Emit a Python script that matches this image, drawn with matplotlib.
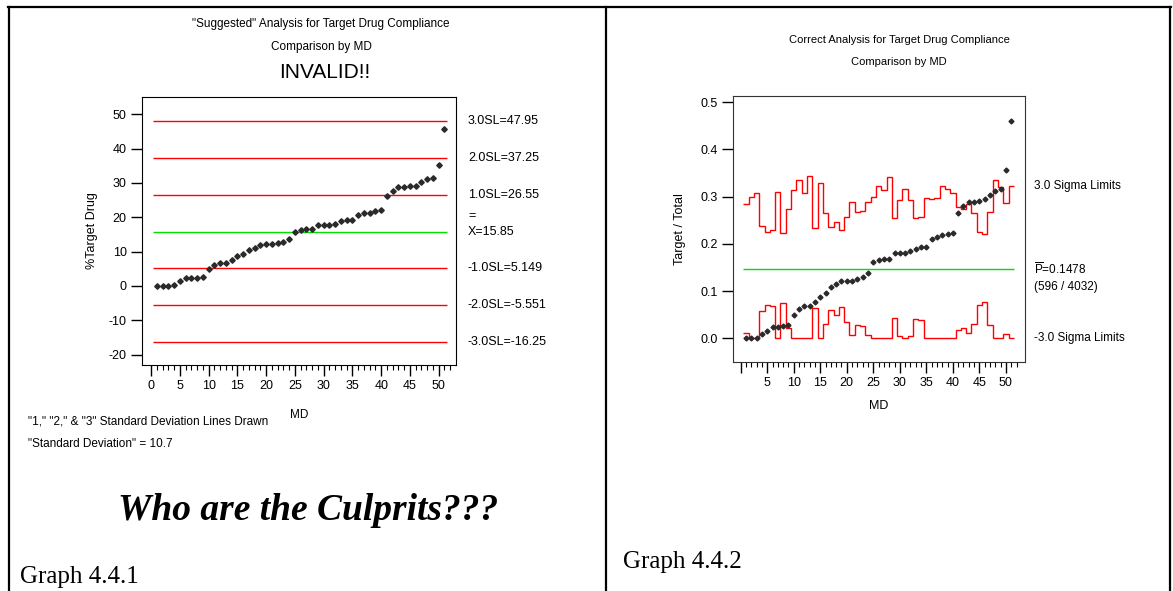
import numpy as np
import matplotlib.pyplot as plt
import matplotlib.transforms as mtransforms
from matplotlib.lines import Line2D

plt.rcParams['font.family'] = ['Liberation Sans', 'DejaVu Sans']
plt.rcParams['mathtext.fontset'] = 'custom'
plt.rcParams['mathtext.rm'] = 'Liberation Sans'
plt.rcParams['axes.unicode_minus'] = False

# data
md = np.arange(1, 52)
pct_target = [0, 0, 0, 0.4, 1.5, 2.25, 2.25, 2.25, 2.6, 4.85,
              6.0, 6.7, 6.7, 7.5, 8.6, 9.3, 10.6, 11.0, 11.8, 12.2,
              12.2, 12.5, 12.9, 13.6, 15.85, 16.2, 16.6, 16.6, 17.7, 17.7,
              17.7, 18.1, 18.8, 19.2, 19.2, 20.6, 21.1, 21.3, 21.7, 22.1,
              26.2, 27.7, 28.7, 28.7, 29.1, 29.1, 30.3, 31.0, 31.4, 35.3, 45.6]
sl_levels = [47.95, 37.25, 26.55, 15.85, 5.149, -5.551, -16.25]
sl_labels = ['3.0SL=47.95', '2.0SL=37.25', '1.0SL=26.55', 'X=15.85',
             '-1.0SL=5.149', '-2.0SL=-5.551', '-3.0SL=-16.25']

p_target = [0, 0, 0, 0.009, 0.016, 0.024, 0.024, 0.027, 0.029, 0.050,
            0.063, 0.069, 0.069, 0.077, 0.087, 0.096, 0.108, 0.115, 0.122, 0.122,
            0.122, 0.125, 0.129, 0.138, 0.161, 0.165, 0.167, 0.167, 0.180, 0.180,
            0.180, 0.184, 0.189, 0.194, 0.194, 0.210, 0.214, 0.218, 0.220, 0.222,
            0.265, 0.281, 0.288, 0.288, 0.291, 0.295, 0.304, 0.311, 0.317, 0.357, 0.460]
ucl = [0.284, 0.299, 0.308, 0.238, 0.225, 0.230, 0.310, 0.222, 0.273, 0.315,
       0.336, 0.307, 0.343, 0.233, 0.328, 0.266, 0.236, 0.246, 0.230, 0.257,
       0.289, 0.268, 0.270, 0.288, 0.299, 0.323, 0.313, 0.342, 0.254, 0.292,
       0.317, 0.292, 0.254, 0.257, 0.297, 0.295, 0.297, 0.323, 0.316, 0.307,
       0.278, 0.274, 0.285, 0.266, 0.226, 0.220, 0.268, 0.336, 0.320, 0.287, 0.323]
lcl = [0.012, 0, 0, 0.058, 0.071, 0.069, 0, 0.074, 0.023, 0,
       0, 0, 0, 0.064, 0, 0.031, 0.061, 0.050, 0.067, 0.035,
       0.007, 0.028, 0.026, 0.008, 0, 0, 0, 0, 0.043, 0.004,
       0, 0.004, 0.042, 0.039, 0, 0.001, 0, 0, 0, 0,
       0.018, 0.022, 0.011, 0.030, 0.070, 0.076, 0.028, 0, 0, 0.009, 0]
p_bar = 0.1478

W, H = 1173, 591
def fx(px): return px / W
def fy(py): return 1 - py / H

fig = plt.figure(figsize=(W / 100, H / 100), dpi=100)

# page frame
for xs, ys in [((8, 1171), (7, 7)), ((9, 9), (7, 591)),
               ((606, 606), (7, 591)), ((1170, 1170), (7, 591))]:
    fig.add_artist(Line2D([fx(x) for x in xs], [fy(y) for y in ys], color='black', lw=1.6))

# ---- left chart
ax1 = fig.add_axes([fx(142), fy(365), fx(456) - fx(142), fy(97) - fy(365)])
cols = ['red', 'red', 'red', '#00e000', 'red', 'red', 'red']
ax1.hlines(sl_levels, 0.3, 51.5, colors=cols, lw=1.0)
ax1.plot(md, pct_target, 'D', ms=2.8, color='#2a2a2a')
ax1.set_xlim(-1.6, 53)
ax1.set_ylim(-23, 55)
ax1.set_xticks(range(0, 51, 5))
ax1.set_xticks(range(0, 53), minor=True)
ax1.set_yticks(range(-20, 51, 10))
ax1.tick_params(direction='out', length=8, width=1, labelsize=9, pad=3)
ax1.tick_params(which='minor', direction='out', length=3.5, width=0.8)
ax1.set_xlabel('MD', fontsize=8.5, labelpad=12)
ax1.set_ylabel('%Target Drug', fontsize=9, labelpad=8)
tr1 = mtransforms.blended_transform_factory(ax1.transAxes, ax1.transData)
for lev, lab in zip(sl_levels, sl_labels):
    ax1.text(1.038, lev, lab, transform=tr1, va='center', ha='left', fontsize=9)
ax1.annotate('=', xy=(1.038, sl_levels[3]), xycoords=tr1, xytext=(0, 11),
             textcoords='offset points', va='center', ha='left', fontsize=9)

fig.text(fx(321), fy(24), '"Suggested" Analysis for Target Drug Compliance',
         ha='center', va='center', fontsize=8.5)
fig.text(fx(321), fy(47), 'Comparison by MD', ha='center', va='center', fontsize=8.5)
fig.text(fx(325), fy(73), 'INVALID!!', ha='center', va='center', fontsize=15)
fig.text(fx(28), fy(422), '"1," "2," & "3" Standard Deviation Lines Drawn',
         ha='left', va='center', fontsize=8.5)
fig.text(fx(28), fy(444), '"Standard Deviation" = 10.7', ha='left', va='center', fontsize=8.5)
fig.text(fx(308), fy(511), 'Who are the Culprits???', ha='center', va='center',
         fontsize=27, family='Liberation Serif', weight='bold', style='italic')
fig.text(fx(20), fy(577), 'Graph 4.4.1', ha='left', va='center', fontsize=18,
         family='Liberation Serif')

# ---- right chart
ax2 = fig.add_axes([fx(733), fy(362), fx(1025) - fx(733), fy(96) - fy(362)])
edges = np.append(md - 0.5, md[-1] + 0.5)
ax2.stairs(ucl, edges, baseline=None, color='red', lw=1.0)
ax2.stairs(lcl, edges, baseline=None, color='red', lw=1.0)
ax2.hlines(p_bar, 0.5, 51.5, colors='#00e000', lw=1.0)
ax2.plot(md, p_target, 'D', ms=2.5, color='#2a2a2a')
ax2.set_xlim(-1.45, 53.6)
ax2.set_ylim(-0.05, 0.513)
ax2.set_xticks(range(0, 51, 5))
ax2.set_xticklabels([''] + [str(v) for v in range(5, 51, 5)])
ax2.set_xticks(range(0, 53), minor=True)
ax2.set_yticks(np.arange(0, 0.51, 0.1))
ax2.set_yticklabels(['0.0', '0.1', '0.2', '0.3', '0.4', '0.5'])
ax2.tick_params(direction='out', length=8, width=1, labelsize=9, pad=3)
ax2.tick_params(which='minor', direction='out', length=3.5, width=0.8)
for s in ax2.spines.values():
    s.set_color('#333333')
ax2.set_xlabel('MD', fontsize=9, labelpad=8)
ax2.set_ylabel('Target / Total', fontsize=9, labelpad=10)
tr2 = mtransforms.blended_transform_factory(ax2.transAxes, ax2.transData)
ax2.text(1.031, ucl[-1], '3.0 Sigma Limits', transform=tr2, va='center', ha='left', fontsize=8.5)
ax2.text(1.031, p_bar, r'$\overline{\mathrm{P}}$=0.1478', transform=tr2,
         va='center', ha='left', fontsize=8.5)
ax2.annotate('(596 / 4032)', xy=(1.031, p_bar), xycoords=tr2, xytext=(0, -13),
             textcoords='offset points', va='center', ha='left', fontsize=8.5)
ax2.text(1.031, lcl[-1], '-3.0 Sigma Limits', transform=tr2, va='center', ha='left', fontsize=8.5)

fig.text(fx(899), fy(40), 'Correct Analysis for Target Drug Compliance',
         ha='center', va='center', fontsize=8)
fig.text(fx(899), fy(62), 'Comparison by MD', ha='center', va='center', fontsize=8)
fig.text(fx(623), fy(562), 'Graph 4.4.2', ha='left', va='center', fontsize=18,
         family='Liberation Serif')

fig.savefig('out.png', dpi=100)
